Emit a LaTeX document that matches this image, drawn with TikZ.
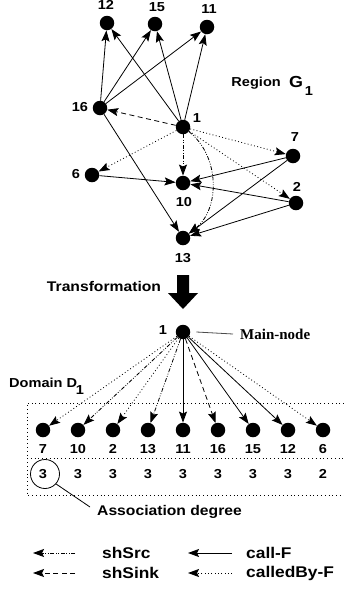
\documentclass[tikz,border=0pt]{standalone}
\usepackage{fontspec}
\setmainfont[FakeStretch=1.12]{Liberation Sans}
\newfontfamily\serifb{Liberation Serif}
\usetikzlibrary{arrows.meta}
\begin{document}
\begin{tikzpicture}[x=1pt,y=-1pt,
  vtx/.style={circle,fill=black,inner sep=0pt,minimum size=14.5pt},
  lbl/.style={inner sep=0pt,font=\fontsize{13}{13}\selectfont\bfseries},
  big/.style={inner sep=0pt,font=\fontsize{14}{14}\selectfont\bfseries},
  leg/.style={inner sep=0pt,anchor=west,font=\fontsize{15.5}{15.5}\selectfont\bfseries},
  edge/.style={line width=0.8pt,-{Stealth[length=11pt,width=8pt,inset=2pt]}},
  callf/.style={edge},
  sink/.style={edge,dash pattern=on 5pt off 3.5pt},
  src/.style={edge,dash pattern=on 4pt off 1.6pt on 0.8pt off 1.6pt on 0.8pt off 1.6pt},
  cby/.style={edge,dash pattern=on 0.9pt off 2.4pt},
  boxline/.style={line width=0.8pt,dash pattern=on 0.9pt off 2.9pt}]
\useasboundingbox (0,0) rectangle (344,590);

% ---- region G1 ----
\node[vtx] (t12) at (107,23) {};
\node[vtx] (t15) at (155,24) {};
\node[vtx] (t11) at (207,27) {};
\node[vtx] (t16) at (100,108) {};
\node[vtx] (t1) at (183,127) {};
\node[vtx] (t7) at (293,156) {};
\node[vtx] (t6) at (92,175) {};
\node[vtx] (t10) at (183,183) {};
\node[vtx] (t2) at (296,203) {};
\node[vtx] (t13) at (183,238) {};

\node[lbl] (lt12) at (106,5) {12};
\node[lbl] (lt15) at (157,7) {15};
\node[lbl] (lt11) at (209,9) {11};
\node[lbl] (lt16) at (80,107) {16};
\node[lbl] (lt1) at (197,118) {1};
\node[lbl] (lt7) at (295,137) {7};
\node[lbl] (lt6) at (76,174) {6};
\node[lbl] (lt10) at (184,202) {10};
\node[lbl] (lt2) at (297,187) {2};
\node[lbl] (lt13) at (183,258) {13};

\node[lbl,anchor=east] (reg) at (281,83) {Region};
\node[inner sep=0pt,font=\fontsize{16}{16}\selectfont\bfseries] (regG) at (296,82) {G};
\node[lbl] (reg1) at (309,91) {1};

\draw[callf] (t16) -- (t12);
\draw[callf] (t16) -- (t15);
\draw[callf] (t16) -- (t11);
\draw[callf] (t1) -- (t12);
\draw[callf] (t1) -- (t15);
\draw[callf] (t1) -- (t11);
\draw[sink] (t1) -- (t16);
\draw[cby] (t1) -- (t6);
\draw[cby] (t1) -- (t7);
\draw[cby] (t1) -- (t2);
\draw[src] (t1) -- (t10);
\draw[src] (t1) to[bend left=52] (t13);
\draw[callf] (t16) -- (t13);
\draw[callf] (t6) -- (t10);
\draw[callf] (t7) -- (t10);
\draw[callf] (t2) -- (t10);
\draw[callf] (t7) -- (t13);
\draw[callf] (t2) -- (t13);

% ---- transformation ----
\node[big] (trans) at (104,286) {Transformation};
\fill (177,275) -- (189,275) -- (189,293) -- (198,293) -- (183,309) -- (168,293) -- (177,293) -- cycle;

% ---- domain D1 ----
\node[vtx] (m1) at (183,332) {};
\node[lbl] (lm1) at (163,330) {1};
\node[inner sep=0pt,anchor=west,font=\serifb\fontsize{15}{15}\selectfont\bfseries] (mainlbl) at (240,334) {Main-node};
\draw[line width=0.8pt,black!70] ([xshift=6pt]m1.east) -- ([xshift=-7pt]mainlbl.west);

\node[lbl,anchor=west] (dom) at (9,383) {Domain D};
\node[lbl] (dom1) at (80,390) {1};

\draw[boxline] (344,403) -- (27,403) -- (27,495) -- (344,495);
\draw[boxline] (27,458) -- (344,458);

\foreach \nm/\xx/\dg in {7/43/3,10/78/3,2/113/3,13/148/3,11/183/3,16/218/3,15/253/3,12/288/3,6/323/2}{
  \node[vtx] (b\nm) at (\xx,430) {};
  \node[lbl] (lb\nm) at (\xx,449) {\nm};
  \node[lbl] (d\nm) at (\xx,474) {\dg};
}

\draw[cby] (m1) -- (b7);
\draw[src] (m1) -- (b10);
\draw[cby] (m1) -- (b2);
\draw[src] (m1) -- (b13);
\draw[callf] (m1) -- (b11);
\draw[sink] (m1) -- (b16);
\draw[callf] (m1) -- (b15);
\draw[callf] (m1) -- (b12);
\draw[cby] (m1) -- (b6);

\node[circle,draw,line width=0.8pt,minimum size=29pt,inner sep=0pt] (circ) at (45,474) {};
\node[big,anchor=west] (assoc) at (97,512) {Association degree};
\coordinate (ae) at (90,507);
\draw[line width=0.8pt] (circ.-42) -- (ae);

% ---- legend ----
\coordinate (s1a) at (75,553); \coordinate (s1b) at (33,553);
\coordinate (s2a) at (75,573); \coordinate (s2b) at (33,573);
\coordinate (s3a) at (232,553); \coordinate (s3b) at (188,553);
\coordinate (s4a) at (232,573); \coordinate (s4b) at (188,573);
\draw[src] (s1a) -- (s1b);
\draw[sink] (s2a) -- (s2b);
\draw[callf] (s3a) -- (s3b);
\draw[cby] (s4a) -- (s4b);
\node[leg] (ls1) at (102,553) {shSrc};
\node[leg] (ls2) at (102,573) {shSink};
\node[leg] (ls3) at (246,553) {call-F};
\node[leg] (ls4) at (246,573) {calledBy-F};
\end{tikzpicture}
\end{document}
